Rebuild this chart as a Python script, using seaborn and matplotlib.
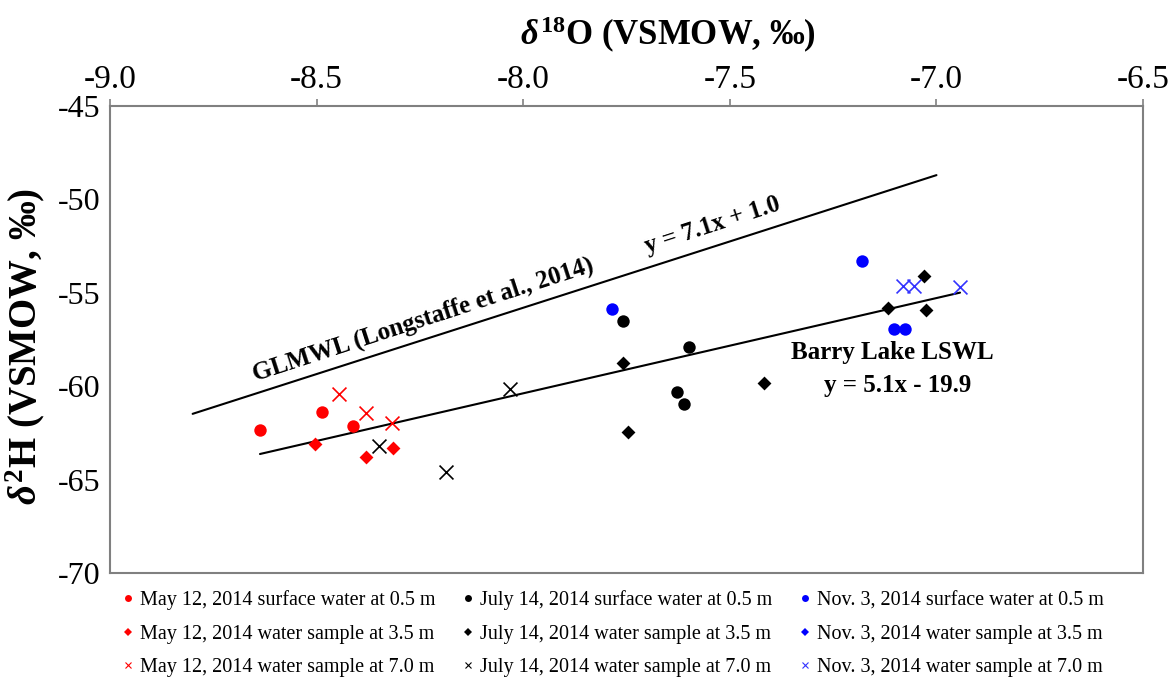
import numpy as np
import pandas as pd
import matplotlib
matplotlib.use('Agg')
import matplotlib.pyplot as plt
from matplotlib.lines import Line2D
import seaborn as sns

# dados (d18O, d2H)
may_surf_x = [-8.636, -8.487, -8.413]
may_surf_y = [-62.34, -61.38, -62.13]
may_35_x = [-8.504, -8.381, -8.316]
may_35_y = [-63.09, -63.79, -63.31]
may_70_x = [-8.445, -8.381, -8.318]
may_70_y = [-60.42, -61.43, -61.97]

jul_surf_x = [-7.758, -7.600, -7.629, -7.610]
jul_surf_y = [-56.51, -57.90, -60.31, -60.95]
jul_35_x = [-7.759, -7.746, -7.417, -7.118, -7.025, -7.030]
jul_35_y = [-58.76, -62.45, -59.83, -55.81, -55.92, -54.10]
jul_70_x = [-8.350, -8.188, -8.031]
jul_70_y = [-63.20, -64.59, -60.15]

nov_surf_x = [-7.784, -7.179, -7.103, -7.076]
nov_surf_y = [-55.87, -53.30, -56.94, -56.94]
nov_35_x = []
nov_35_y = []
nov_70_x = [-7.081, -7.054, -6.943]
nov_70_y = [-54.62, -54.62, -54.69]

# retas
glmwl_x = [-8.80, -7.00]
glmwl_slope, glmwl_icpt = 7.1, 1.0
lswl_x = [-8.637, -6.943]
lswl_y = [-63.63, -54.99]

x_ticks = [-9.0, -8.5, -8.0, -7.5, -7.0, -6.5]
y_ticks = [-45, -50, -55, -60, -65, -70]

series = [
    ('May 12, 2014 surface water at 0.5 m', may_surf_x, may_surf_y, 'red', 'o'),
    ('May 12, 2014 water sample at 3.5 m', may_35_x, may_35_y, 'red', 'D'),
    ('May 12, 2014 water sample at 7.0 m', may_70_x, may_70_y, 'red', 'x'),
    ('July 14, 2014 surface water at 0.5 m', jul_surf_x, jul_surf_y, 'black', 'o'),
    ('July 14, 2014 water sample at 3.5 m', jul_35_x, jul_35_y, 'black', 'D'),
    ('July 14, 2014 water sample at 7.0 m', jul_70_x, jul_70_y, 'black', 'x'),
    ('Nov. 3, 2014 surface water at 0.5 m', nov_surf_x, nov_surf_y, 'blue', 'o'),
    ('Nov. 3, 2014 water sample at 3.5 m', nov_35_x, nov_35_y, 'blue', 'D'),
    ('Nov. 3, 2014 water sample at 7.0 m', nov_70_x, nov_70_y, '#3333ff', 'x'),
]

sns.set_style('white')
plt.rcParams['font.family'] = ['Liberation Serif', 'DejaVu Serif']
plt.rcParams['mathtext.fontset'] = 'custom'
plt.rcParams['mathtext.rm'] = 'Liberation Serif:bold'
plt.rcParams['mathtext.it'] = 'Liberation Serif:italic:bold'
plt.rcParams['mathtext.bf'] = 'Liberation Serif:bold'
plt.rcParams['axes.unicode_minus'] = False
plt.rcParams['text.color'] = 'black'
plt.rcParams['axes.labelcolor'] = 'black'
plt.rcParams['xtick.color'] = 'black'
plt.rcParams['ytick.color'] = 'black'

fig = plt.figure(figsize=(11.7, 6.84), dpi=100)
ax = fig.add_axes([0.094, 0.1623, 0.883, 0.6827])

sizes = {'o': 80, 'D': 50, 'x': 100}
handles = []
for label, xs, ys, cor, mk in series:
    if len(xs) > 0:
        df = pd.DataFrame({'x': xs, 'y': ys})
        if mk == 'x':
            sns.scatterplot(data=df, x='x', y='y', marker='x', color=cor, s=sizes[mk],
                            linewidth=1.2, ax=ax, zorder=3)
        else:
            sns.scatterplot(data=df, x='x', y='y', marker=mk, color=cor, s=sizes[mk],
                            edgecolor=cor, linewidth=0, ax=ax, zorder=3)
    handles.append(Line2D([], [], linestyle='none', marker=mk, color=cor,
                          markersize=5 if mk != 'D' else 4, markeredgewidth=0.8 if mk == 'x' else 0,
                          label=label))

glmwl = pd.DataFrame({'x': glmwl_x})
glmwl['y'] = glmwl_slope * glmwl['x'] + glmwl_icpt
sns.lineplot(data=glmwl, x='x', y='y', color='black', linewidth=1.5, ax=ax, zorder=2)
sns.lineplot(x=lswl_x, y=lswl_y, color='black', linewidth=1.5, ax=ax, zorder=2)

ax.text(-8.243, -56.46, 'GLMWL (Longstaffe et al., 2014)', rotation=18, rotation_mode='anchor',
        ha='center', va='center', fontsize=18, fontweight='bold')
ax.text(-7.541, -51.37, 'y = 7.1x + 1.0', rotation=18, rotation_mode='anchor',
        ha='center', va='center', fontsize=18, fontweight='bold')
ax.text(-7.107, -58.22, 'Barry Lake LSWL', ha='center', va='center', fontsize=18, fontweight='bold')
ax.text(-7.095, -59.94, 'y = 5.1x - 19.9', ha='center', va='center', fontsize=18, fontweight='bold')

ax.set_xlim(-9.0, -6.5)
ax.set_ylim(-70, -45)
ax.set_xticks(x_ticks)
ax.set_xticklabels([f'{v:.1f}' for v in x_ticks])
ax.set_yticks(y_ticks)
ax.set_yticklabels([str(v) for v in y_ticks])
ax.xaxis.tick_top()
ax.xaxis.set_label_position('top')
ax.tick_params(axis='both', direction='out', length=5, width=1.2, color='#808080',
               labelsize=23, pad=2)
ax.tick_params(axis='x', labelsize=24, pad=3)
for sp in ax.spines.values():
    sp.set_color('#808080')
    sp.set_linewidth(1.5)

ax.set_xlabel(r'$\delta^{18}$O (VSMOW, ‰)', fontsize=25, fontweight='bold')
ax.xaxis.set_label_coords(0.540, 1.131)
ax.set_ylabel(r'$\delta^{2}$H (VSMOW, ‰)', fontsize=28, fontweight='bold')
ax.yaxis.set_label_coords(-0.061, 0.486)

ax.legend(handles=handles, ncol=3, loc='upper left', bbox_to_anchor=(0.004, -0.020),
          frameon=False, fontsize=14.5, handlelength=0.6, handletextpad=0.3,
          columnspacing=1.3, labelspacing=0.72, borderaxespad=0)

fig.savefig('out.png', dpi=100)
